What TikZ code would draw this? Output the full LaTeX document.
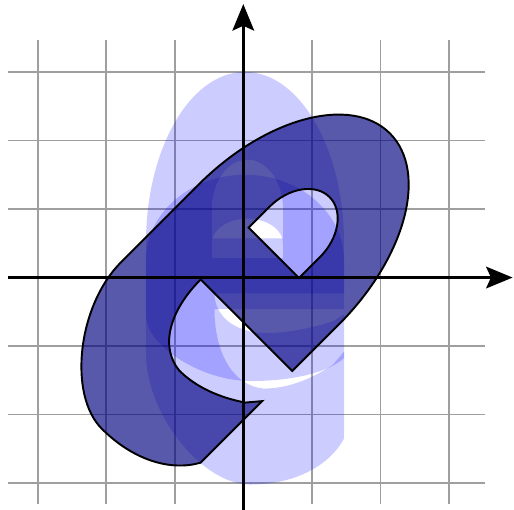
\documentclass[tikz,border=0pt]{standalone}
\usepackage{tikz}
\usetikzlibrary{arrows.meta}

% outline of the letter, upright, with its eye as a second sub-path
\newcommand{\eglyph}{%
  (-0.42,-0.46) -- (1.47,-0.46) -- (1.47,0.5)
  arc[start angle=0, end angle=180, x radius=1.445, y radius=2.5]
  -- (-1.42,-1.1)
  .. controls (-1.42,-2.0) and (-0.6,-3.02) .. (0.1,-3.02)
  .. controls (0.75,-3.02) and (1.25,-2.75) .. (1.47,-2.35)
  -- (1.47,-1.08) -- (1.31,-1.27)
  .. controls (1.0,-1.48) and (0.65,-1.62) .. (0.3,-1.62)
  .. controls (-0.15,-1.58) and (-0.42,-1.1) .. (-0.42,-0.46)
  -- cycle
  (-0.46,0.57) -- (0.58,0.57) -- (0.58,1.0)
  arc[start angle=0, end angle=180, x radius=0.52, y radius=0.72]
  -- cycle}

\begin{document}
\begin{tikzpicture}[
  gridline/.style={gray!75, line width=0.7pt},
  axis/.style={-{Stealth[length=11pt, width=9pt, inset=2pt]}, line width=1.1pt},
  lightglyph/.style={fill=blue, fill opacity=0.2, even odd rule},
  darkglyph/.style={fill=blue!50!black, fill opacity=0.65, draw=black, thick, even odd rule}
]
\useasboundingbox (-3.55,-3.38) rectangle (3.95,4.05);

% grid
\foreach \i in {-3,...,3} {
  \draw[gridline] (-3.43,\i) -- (3.52,\i);
  \draw[gridline] (\i,-3.3) -- (\i,3.47);
}

% original letter and its squashed copy
\path[lightglyph] \eglyph;
\path[lightglyph, yscale=0.5] \eglyph;

% rotated letter
\path[darkglyph, rotate=-45] \eglyph;

% axes
\draw[axis] (-3.43,0) -- (3.93,0);
\draw[axis] (0,-3.5) -- (0,3.99);
\end{tikzpicture}
\end{document}
